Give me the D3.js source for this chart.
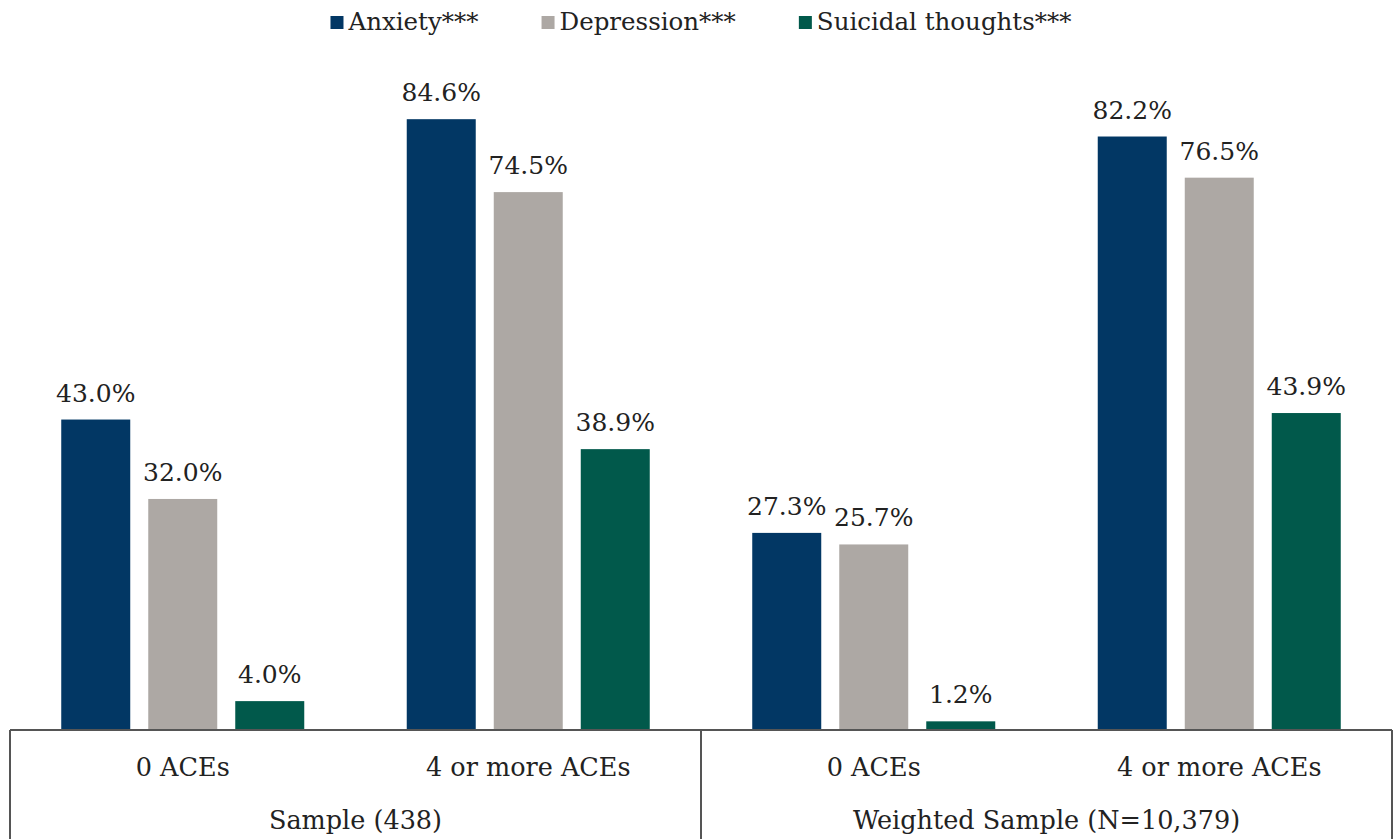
<!DOCTYPE html>
<html>
<head>
<meta charset="utf-8">
<script src="https://cdn.jsdelivr.net/npm/d3@7"></script>
<style>
  html, body { margin: 0; padding: 0; background: #fff; }
  svg { display: block; }
  text { font-family: "DejaVu Serif", "Liberation Serif", serif; fill: #222; }
</style>
</head>
<body>
<svg id="chart" width="1397" height="839"></svg>
<script>
// Outcome series shown in each bar group
const series = ["Anxiety***", "Depression***", "Suicidal thoughts***"];
const seriesColors = ["#023764", "#ADA8A4", "#01594B"];

// Sample groupings (bottom tier) and ACE categories (upper tier)
const samples = ["Sample (438)", "Weighted Sample (N=10,379)"];
const aceCategories = ["0 ACEs", "4 or more ACEs"];

// Percent values per series, ordered: Sample 0 ACEs, Sample 4+ ACEs, Weighted 0 ACEs, Weighted 4+ ACEs
const anxiety = [43.0, 84.6, 27.3, 82.2];
const depression = [32.0, 74.5, 25.7, 76.5];
const suicidal = [4.0, 38.9, 1.2, 43.9];

const valuesBySeries = [anxiety, depression, suicidal];

const groups = [];
samples.forEach((s, si) => aceCategories.forEach((c, ci) => groups.push({ sample: s, category: c, idx: si * aceCategories.length + ci })));

const svg = d3.select("#chart");
const plotLeft = 10, plotRight = 1392, baseline = 730, plotTop = 8, plotBottom = 839;

const x0 = d3.scaleBand().domain(groups.map(g => g.idx)).range([plotLeft, plotRight]).paddingInner(0).paddingOuter(0);
const x1 = d3.scaleBand().domain(series).range([0, x0.bandwidth()]).paddingInner(0.207).paddingOuter(0.589);
const y = d3.scaleLinear().domain([0, 100]).range([baseline, plotTop]);

const fmt = d3.format(".1f");

// Bars and value labels
const barLayer = svg.append("g");
groups.forEach(grp => {
  series.forEach((s, k) => {
    const v = valuesBySeries[k][grp.idx];
    const bx = x0(grp.idx) + x1(s);
    barLayer.append("rect")
      .attr("x", bx)
      .attr("y", y(v))
      .attr("width", x1.bandwidth())
      .attr("height", y(0) - y(v))
      .attr("fill", seriesColors[k]);
    barLayer.append("text")
      .attr("x", bx + x1.bandwidth() / 2)
      .attr("y", y(v) - 18)
      .attr("text-anchor", "middle")
      .attr("font-size", 25)
      .text(fmt(v) + "%");
  });
});

// Two-tier category axis drawn as a box
const axis = svg.append("g").attr("stroke", "#555").attr("stroke-width", 2).attr("fill", "none");
axis.append("line").attr("x1", plotLeft).attr("x2", plotRight).attr("y1", baseline).attr("y2", baseline);
const sampleEdges = [plotLeft, x0(aceCategories.length), plotRight];
sampleEdges.forEach(xp => {
  axis.append("line").attr("x1", xp).attr("x2", xp).attr("y1", baseline).attr("y2", plotBottom);
});

groups.forEach(grp => {
  svg.append("text")
    .attr("x", x0(grp.idx) + x0.bandwidth() / 2)
    .attr("y", 776)
    .attr("text-anchor", "middle")
    .attr("font-size", 25.5)
    .text(grp.category);
});
samples.forEach((s, si) => {
  svg.append("text")
    .attr("x", (sampleEdges[si] + sampleEdges[si + 1]) / 2)
    .attr("y", 829)
    .attr("text-anchor", "middle")
    .attr("font-size", 25.5)
    .text(s);
});

// Legend centred at the top
const legend = svg.append("g");
const sw = 13, swGap = 5, itemGap = 63;
let cursor = 0;
series.forEach((s, k) => {
  const item = legend.append("g").attr("transform", `translate(${cursor},0)`);
  item.append("rect").attr("x", 0).attr("y", 16).attr("width", sw).attr("height", sw).attr("fill", seriesColors[k]);
  const t = item.append("text").attr("x", sw + swGap).attr("y", 30).attr("font-size", 24.5).text(s);
  cursor += sw + swGap + t.node().getComputedTextLength() + itemGap;
});
const legendWidth = cursor - itemGap;
legend.attr("transform", `translate(${(plotLeft + plotRight) / 2 - legendWidth / 2},0)`);
</script>
</body>
</html>
